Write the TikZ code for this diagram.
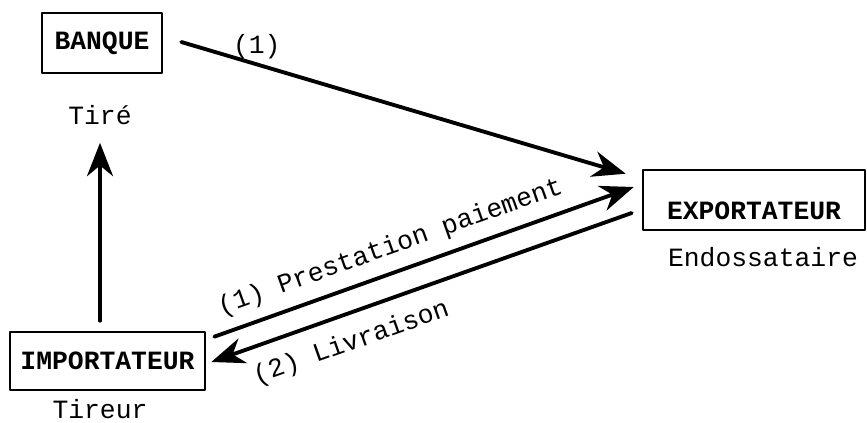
\documentclass[tikz,border=0pt]{standalone}
\usepackage{fontspec}
\setmainfont{Liberation Mono}
\usetikzlibrary{arrows.meta,calc}

\begin{document}
\begin{tikzpicture}[x=0.03cm,y=-0.03cm,line cap=round,line join=round,
  every node/.style={font=\fontsize{22.5}{26}\selectfont},
  party/.style={draw,line width=2.2pt,inner sep=0pt,font=\fontsize{22.5}{26}\selectfont\bfseries},
  flow/.style={line width=3.3pt,-{Stealth[length=1cm,width=0.78cm,inset=0.32cm]}},
  flowback/.style={line width=3.3pt,{Stealth[length=1cm,width=0.78cm,inset=0.32cm]}-}]
  \useasboundingbox (0,0) rectangle (867,423);
  % parties
  \node[party,minimum width=3.6cm,minimum height=1.8cm] (banque) at (102,43) {BANQUE};
  \node[party,minimum width=6.66cm,minimum height=1.8cm] (export) at (754,200) {\raisebox{-0.75em}[0pt][0pt]{EXPORTATEUR}};
  \node[party,minimum width=5.85cm,minimum height=1.74cm] (import) at (107.5,361) {IMPORTATEUR};
  \node (tire) at (100,115) {Tiré};
  \node (tireur) at (100,409) {Tireur};
  \node (endos) at (763,257) {Endossataire};
  % flows
  \draw[flow] ($(banque.east)+(18,-1)$) -- node[pos=0.17,above] (l1) {(1)} ($(export.north west)+(-16,5)$);
  \draw[flow] ($(import.north east)+(8,6)$) -- node[pos=0.44,above=0.2cm,sloped] (l2) {(1) Prestation paiement} ($(export.west)+(-8,-13)$);
  \draw[flowback] ($(import.east)+(5,1)$) -- node[pos=0.31,below=0.33cm,sloped] (l3) {(2) Livraison} ($(export.west)+(-10,13)$);
  \draw[flow] ($(tire.south |- import.north)+(0,-10)$) -- ($(tire.south)+(0,14)$);
\end{tikzpicture}
\end{document}
